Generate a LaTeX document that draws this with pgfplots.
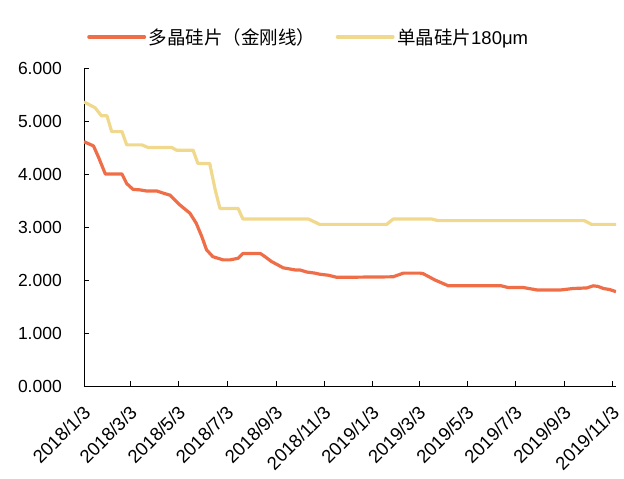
\documentclass[border=0pt]{standalone}
\usepackage{fontspec}
\setmainfont{Liberation Sans}
\newfontfamily\cjk{Noto Sans CJK SC}
\usepackage{pgfplots}
\pgfplotsset{compat=1.18}
\definecolor{cOr}{HTML}{EF6E48}
\definecolor{cYe}{HTML}{F0D98C}
\begin{document}
\begin{tikzpicture}
\begin{axis}[
  scale only axis, width=532bp, height=318bp,
  xmin=0, xmax=673, ymin=0, ymax=6,
  axis x line*=bottom, axis y line*=left,
  axis line style={-, black, line width=0.9bp},
  tick align=inside, major tick length=5bp,
  tick style={black, line width=0.9bp},
  ytick={0,1,2,3,4,5,6},
  xtick={0,59,120,181,243,304,365,424,485,546,608,669},
  xticklabels={2018/1/3,2018/3/3,2018/5/3,2018/7/3,2018/9/3,2018/11/3,2019/1/3,2019/3/3,2019/5/3,2019/7/3,2019/9/3,2019/11/3},
  /pgf/number format/.cd, fixed, fixed zerofill, precision=3, assume math mode=true,
  /pgfplots/.cd,
  tick label style={font=\fontsize{17.5bp}{20bp}\selectfont, black},
  yticklabel style={anchor=east, inner sep=0pt, xshift=-22bp},
  xticklabel style={font=\fontsize{18.5bp}{21bp}\selectfont, xshift=3bp, yshift=-23bp, rotate=45, anchor=east, inner sep=0pt},
  legend style={at={(0,1)}, anchor=west, xshift=3bp, yshift=31bp, draw=none, fill=none,
    font=\fontsize{18.5bp}{21bp}\selectfont, inner sep=0pt,
    nodes={inner sep=2.5bp}, /tikz/every even column/.append style={column sep=18bp}},
  legend columns=2,
  legend image code/.code={\draw[#1, line width=4bp, line cap=round] (0bp,0bp) -- (55bp,0bp);},
  every axis plot/.append style={line width=3.2bp, line join=round},
]
\addplot[cOr] coordinates {
(0,4.61) (12,4.53) (18,4.33) (27,4.00) (48,4.00) (54,3.82) (62,3.71) (71,3.70)
(79,3.68) (92,3.68) (100,3.64) (109,3.60) (121,3.42) (134,3.26) (142,3.07)
(149,2.82) (155,2.57) (163,2.44) (176,2.38) (185,2.38) (195,2.41) (201,2.50)
(223,2.50) (229,2.44) (237,2.35) (252,2.23) (267,2.19) (273,2.19) (282,2.15)
(292,2.13) (298,2.11) (309,2.09) (320,2.05) (391,2.06) (404,2.13) (425,2.13)
(429,2.12) (444,2.00) (461,1.89) (528,1.89) (536,1.86) (555,1.86) (574,1.81)
(602,1.81) (619,1.84) (636,1.85) (644,1.89) (650,1.88) (657,1.84) (665,1.82) (673,1.78)
};
\addlegendentry{{\cjk 多晶硅片（金刚线）}}
\addplot[cYe] coordinates {
(0,5.36) (14,5.25) (22,5.10) (29,5.10) (35,4.80) (48,4.80) (54,4.55) (73,4.55)
(81,4.50) (111,4.50) (117,4.45) (138,4.45) (144,4.20) (159,4.20) (166,3.70)
(172,3.35) (195,3.35) (201,3.15) (284,3.15) (298,3.05) (383,3.05) (391,3.15)
(440,3.15) (448,3.12) (633,3.12) (642,3.05) (673,3.05)
};
\addlegendentry{{\cjk 单晶硅片}180μm}
\end{axis}
\pgfresetboundingbox
\path[use as bounding box] (-84bp,-93bp) rectangle (540bp,386bp);
\end{tikzpicture}
\end{document}
